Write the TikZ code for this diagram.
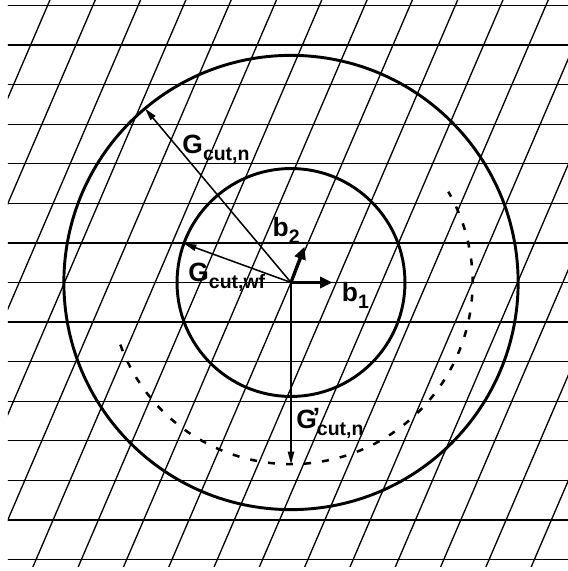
\documentclass[tikz,border=0pt]{standalone}
\usepackage{fontspec}
\setmainfont{Liberation Sans}
\usetikzlibrary{arrows.meta,calc}
\def\bx{1.1448}  % spacing of the b2 lines
\def\sh{0.4296}  % shear of the b2 lines per row
\def\Rwf{2.88}
\def\Rn{5.74}
\def\Rp{4.59}
\newcommand{\glabel}[2]{#1\raisebox{-5pt}{\fontsize{14}{14}\selectfont #2}}

\begin{document}
\begin{tikzpicture}[>={Triangle[length=9pt,width=4.5pt]},
    lbl/.style={font=\fontsize{19}{19}\selectfont\bfseries, inner sep=0pt, anchor=base west}]
        \useasboundingbox (-7.354,-7.291) rectangle (7.0,7.139);
        % reciprocal lattice
        \begin{scope}
          \clip (-7.152,-7.165) rectangle (7.0,7.2);
          \foreach \j in {-7,...,7}
            \draw[line width=0.95pt] (-7.2,\j) -- (7.1,\j);
          \foreach \k in {-10,...,10}
            \draw[line width=0.95pt, shift={({\k*\bx},0)}] ({-7.216*\sh},-7.216) -- ({7.216*\sh},7.216);
        \end{scope}
        \coordinate (O) at (0,0);
        % cutoff spheres
        \draw[line width=2.1pt] (O) circle(\Rn);
        \draw[line width=2.1pt] (O) circle(\Rwf);
        \draw[line width=1.8pt, dash pattern=on 5pt off 8pt] (200:\Rp) arc(200:390:\Rp);
        \coordinate (Pn) at (130:\Rn);
        \coordinate (Pwf) at (160:\Rwf);
        \coordinate (Pp) at (270:\Rp);
        \coordinate (B1) at (1.05,0);
        \coordinate (B2) at (0.341,0.905);
        \draw[->, line width=1.1pt] (O) -- (Pn);
        \draw[->, line width=1.1pt] (O) -- (Pwf);
        \draw[->, line width=1.1pt] (O) -- (Pp);
        % basis vectors
        \draw[-{Triangle[length=9pt,width=8pt]}, line width=2.4pt] (O) -- (B1);
        \draw[-{Triangle[length=9pt,width=8pt]}, line width=2.4pt] (O) -- (B2);
        \node[lbl] (gn) at (-2.75,3.265) {\glabel{G}{cut,n}};
        \node[lbl] (gwf) at (-2.60,0.02) {\glabel{G}{cut,wf}};
        \node[lbl] (b2) at (-0.47,1.157) {\glabel{b}{2}};
        \node[lbl] (b1) at (1.28,-0.485) {\glabel{b}{1}};
        \node[lbl] (gp) at (0.13,-3.685)
          {\glabel{G\kern-3pt\rlap{\raisebox{1.5pt}{’}}\kern3pt}{cut,n}};
      \end{tikzpicture}
\end{document}
